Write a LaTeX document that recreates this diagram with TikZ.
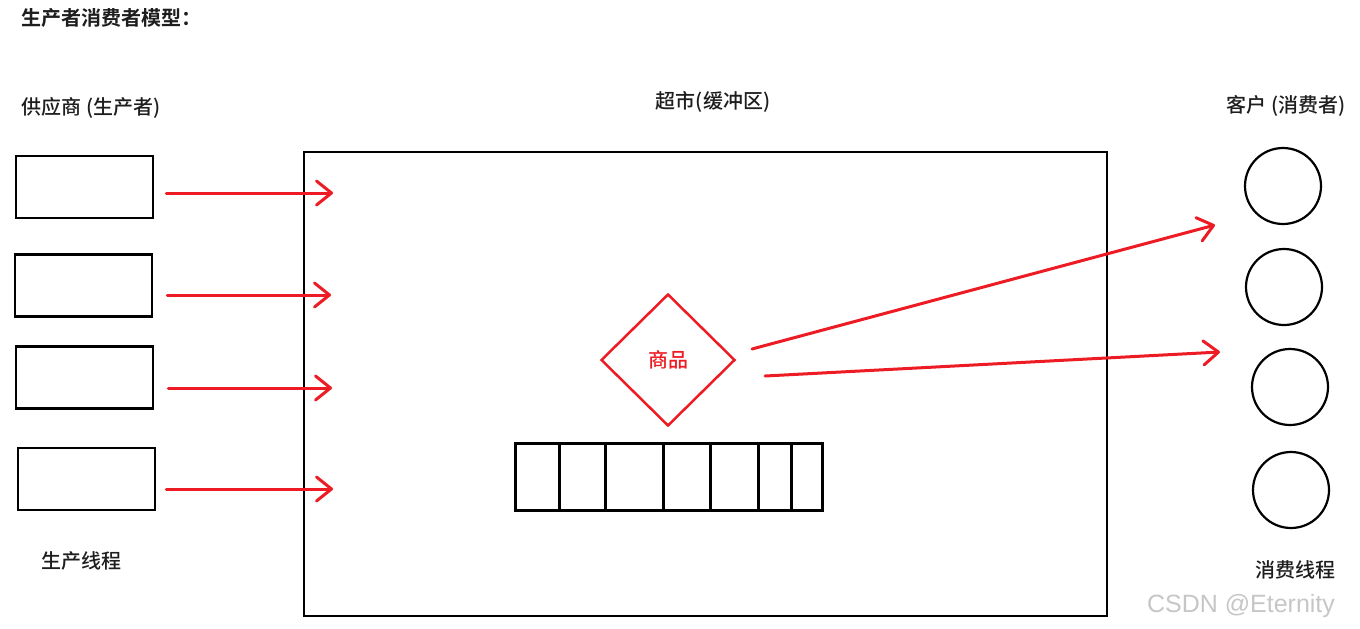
\documentclass[tikz,border=0pt]{standalone}
\usepackage{fontspec}
\setmainfont{Noto Sans CJK SC}[BoldFont={Noto Sans CJK SC Bold}]
\newfontfamily\midfont{Noto Sans CJK SC Medium}
\newfontfamily\markfont{Liberation Sans}
\usetikzlibrary{shapes.geometric,arrows.meta,positioning}
\definecolor{paintred}{HTML}{ED1C24}
\definecolor{inkgray}{HTML}{1E1E1E}

\begin{document}
\begin{tikzpicture}[x=1pt,y=-1pt,
    caption/.style={text=inkgray, font=\midfont\fontsize{20}{24}\selectfont, inner sep=0pt},
    supplier/.style={draw, line width=2.5pt, minimum width=137pt, minimum height=62pt, inner sep=0pt},
    customer/.style={draw, circle, line width=2.2pt, minimum size=76pt, inner sep=0pt},
    cell/.style={draw, line width=3pt, minimum height=67pt, inner sep=0pt, outer sep=0pt},
    goods/.style={draw=paintred, diamond, line width=2.5pt, minimum width=134pt, minimum height=132pt, inner sep=0pt, text=paintred, font=\midfont\fontsize{20}{24}\selectfont},
    feed/.style={draw=paintred, line width=3pt, line cap=round, -{Straight Barb[round,length=15pt,width=24pt]}}]
    \useasboundingbox (0,0) rectangle (1360,629);

    \node[caption, font=\fontsize{20}{24}\selectfont\bfseries] (title) at (111,18) {生产者消费者模型：};
    \node[caption] (supname) at (91,108) {供应商 (生产者)};
    \node[caption] (marketname) at (713,102) {超市(缓冲区)};
    \node[caption] (custname) at (1286,106) {客户 (消费者)};
    \node[caption] (prodthread) at (81,561) {生产线程};
    \node[caption] (consthread) at (1295,570) {消费线程};

    % suppliers
    \node[supplier] (s1) at (84.5,187) {};
    \node[supplier] (s2) at (83.5,285.5) {};
    \node[supplier] (s3) at (84.5,377.5) {};
    \node[supplier] (s4) at (86.5,479) {};

    % supermarket
    \node[draw, line width=2.5pt, minimum width=803pt, minimum height=464pt, inner sep=0pt] (market) at (705.5,384) {};
    \node[goods] (goods) at (668,360) {商品};

    % buffer
    \node[cell, minimum width=44pt] (b1) at (537,476.5) {};
    \node[cell, minimum width=46pt, right=0pt of b1] (b2) {};
    \node[cell, minimum width=58pt, right=0pt of b2] (b3) {};
    \node[cell, minimum width=47pt, right=0pt of b3] (b4) {};
    \node[cell, minimum width=48pt, right=0pt of b4] (b5) {};
    \node[cell, minimum width=33pt, right=0pt of b5] (b6) {};
    \node[cell, minimum width=31pt, right=0pt of b6] (b7) {};

    % customers
    \node[customer] (c1) at (1283,186) {};
    \node[customer] (c2) at (1284,287) {};
    \node[customer] (c3) at (1290,387) {};
    \node[customer] (c4) at (1291,490) {};

    \coordinate (in1) at (333,193);
    \coordinate (in2) at (331,295);
    \coordinate (in3) at (332,388);
    \coordinate (in4) at (333,489);
    \draw[feed, shorten <=12pt] (s1.east |- in1) -- (in1);
    \draw[feed, shorten <=14pt] (s2.east |- in2) -- (in2);
    \draw[feed, shorten <=14pt] (s3.east |- in3) -- (in3);
    \draw[feed, shorten <=10pt] (s4.east |- in4) -- (in4);

    \coordinate (g1) at (752,349);
    \coordinate (g2) at (765,376);
    \coordinate (out1) at (1215,225);
    \coordinate (out2) at (1220,352);
    \draw[feed] (g1) -- (out1);
    \draw[feed] (g2) -- (out2);

    \node[text=gray!45, font=\markfont\fontsize{25}{30}\selectfont, inner sep=0pt] (mark) at (1241,606) {CSDN @Eternity};
\end{tikzpicture}
\end{document}
